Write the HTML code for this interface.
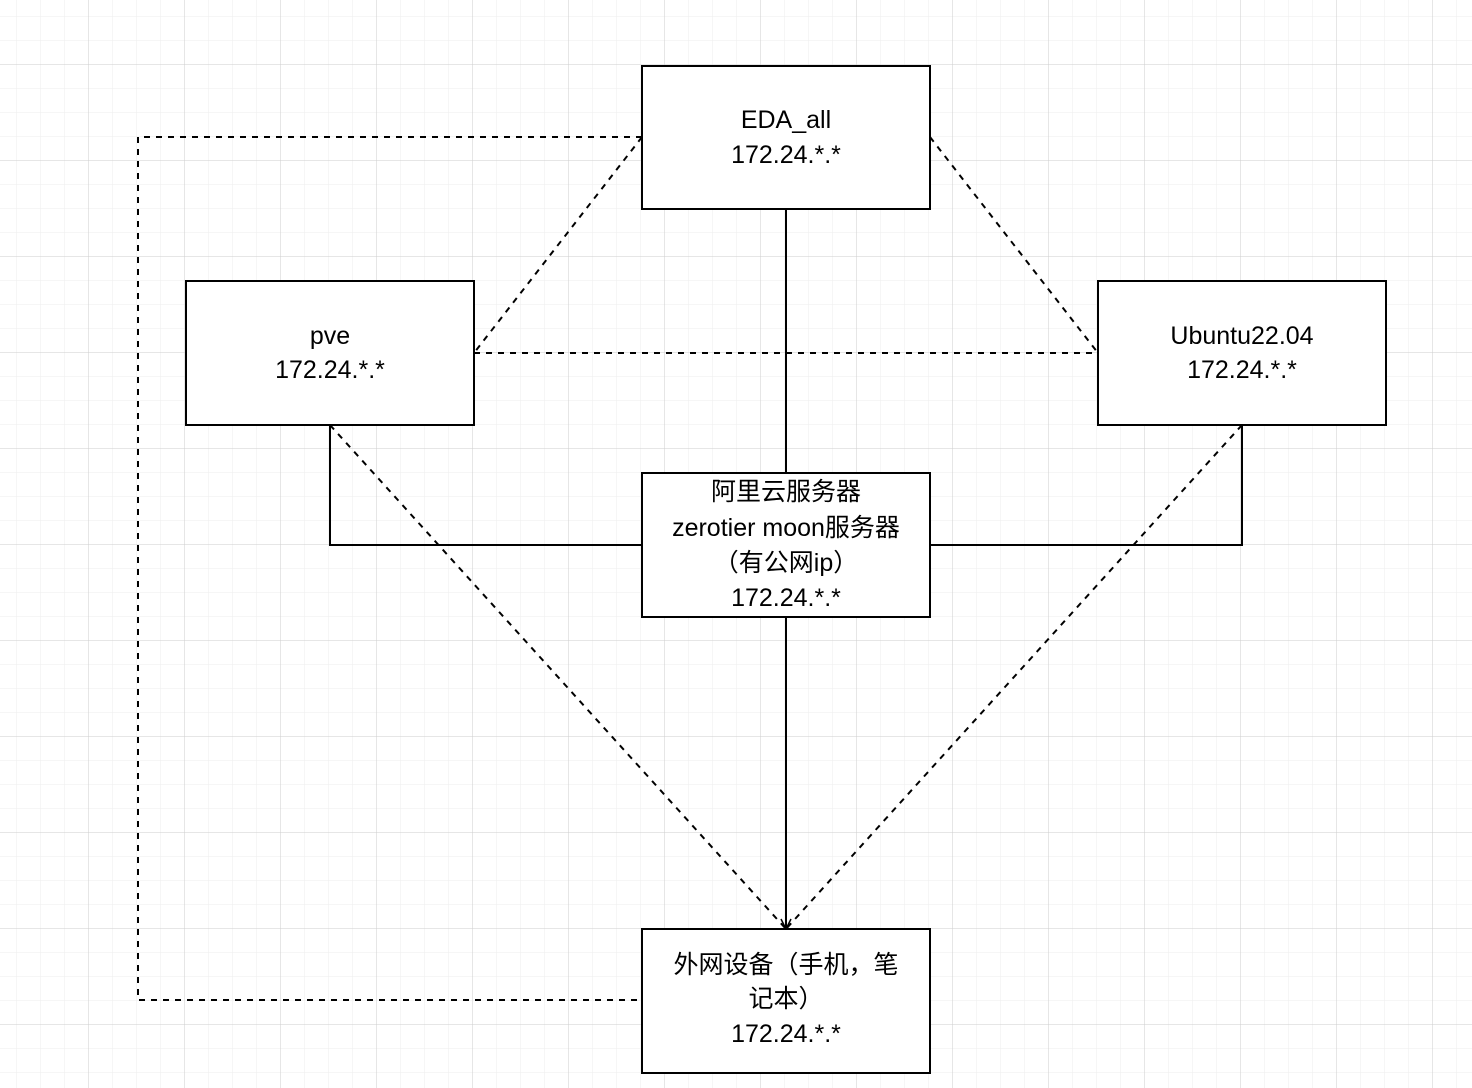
<!DOCTYPE html>
<html><head><meta charset="utf-8"><style>
html,body{margin:0;padding:0;background:#fff;}
svg{display:block}
text{font-family:"Liberation Sans","Noto Sans CJK SC",sans-serif;font-size:25px;fill:#000;text-anchor:middle;dominant-baseline:central}
</style></head><body>
<svg width="1472" height="1088" viewBox="0 0 1472 1088" xmlns="http://www.w3.org/2000/svg">
<defs>
<pattern id="minor" width="24" height="24" patternUnits="userSpaceOnUse" x="16" y="16">
<path d="M0 0H24M0 0V24" stroke="#f0f0f0" stroke-width="1.2" fill="none"/>
</pattern>
<pattern id="major" width="96" height="96" patternUnits="userSpaceOnUse" x="88" y="64">
<path d="M0 0H96M0 0V96" stroke="#d0d0d0" stroke-width="1" fill="none"/>
</pattern>
</defs>
<rect width="1472" height="1088" fill="url(#minor)"/>
<rect width="1472" height="1088" fill="url(#major)"/>
<g stroke="#000" stroke-width="2" fill="none">
<path d="M786 209V473"/>
<path d="M786 617V927"/>
<path d="M330 425V545H642"/>
<path d="M1242 425V545H930"/>
</g>
<path d="M781 919L786 929L791 919" stroke="#000" stroke-width="1.5" fill="none"/>
<g stroke="#000" stroke-width="2" fill="none" stroke-dasharray="6 6">
<path d="M642 137L474 353"/>
<path d="M930 137L1098 353"/>
<path d="M474 353H1098"/>
<path d="M330 425L786 929"/>
<path d="M1242 425L786 929"/>
<path d="M642 137H138V1000H642"/>
</g>
<g fill="#fff" stroke="#000" stroke-width="2">
<rect x="642" y="66" width="288" height="143"/>
<rect x="186" y="281" width="288" height="144"/>
<rect x="1098" y="281" width="288" height="144"/>
<rect x="642" y="473" width="288" height="144"/>
<rect x="642" y="929" width="288" height="144"/>
</g>
<text x="786" y="120">EDA_all</text>
<text x="786" y="155">172.24.*.*</text>
<text x="330" y="336">pve</text>
<text x="330" y="370">172.24.*.*</text>
<text x="1242" y="336">Ubuntu22.04</text>
<text x="1242" y="370">172.24.*.*</text>
<text x="786" y="492">阿里云服务器</text>
<text x="786" y="528">zerotier moon服务器</text>
<text x="786" y="563">（有公网ip）</text>
<text x="786" y="598">172.24.*.*</text>
<text x="786" y="965">外网设备（手机，笔</text>
<text x="786" y="999">记本）</text>
<text x="786" y="1034">172.24.*.*</text>
</svg>
</body></html>
